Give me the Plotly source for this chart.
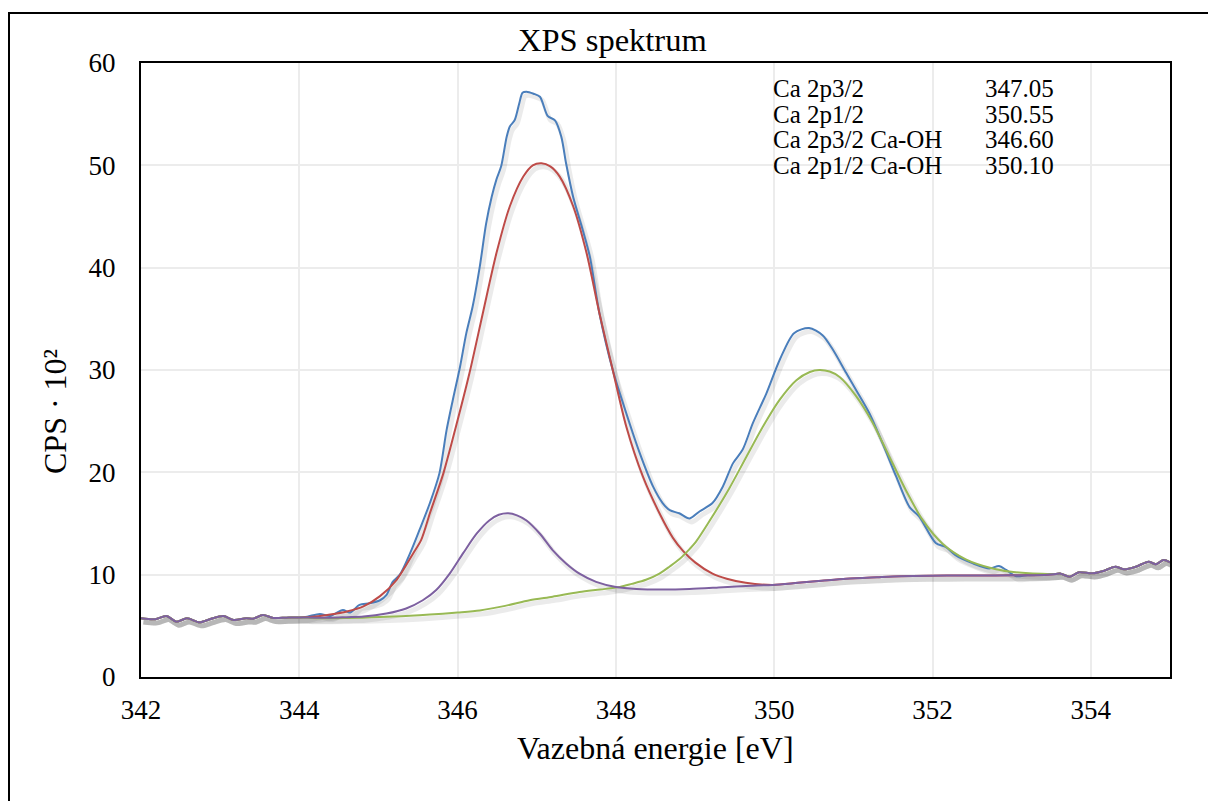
import plotly.graph_objects as go

# ---------------- data ----------------
edge_left_x = [342.0, 342.18, 342.32, 342.45, 342.58, 342.74, 342.87, 343.04, 343.17,
               343.33, 343.42, 343.54, 343.67, 343.84, 344.0]
edge_left_y = [5.73, 5.64, 5.96, 5.41, 5.73, 5.35, 5.64, 5.96, 5.57,
               5.73, 5.70, 6.06, 5.77, 5.80, 5.82]

edge_right_x = [353.56, 353.62, 353.73, 353.85, 354.02, 354.17, 354.31, 354.42,
                354.57, 354.73, 354.82, 354.92, 355.0]
edge_right_y = [10.07, 10.10, 9.80, 10.23, 10.13, 10.39, 10.78, 10.52,
                10.78, 11.27, 11.02, 11.44, 11.21]

bg_right_x = [350.3, 350.6, 350.91, 351.3, 351.6, 351.96, 352.4, 352.8, 353.2, 353.45]
bg_right_y = [9.2, 9.4, 9.6, 9.75, 9.85, 9.9, 9.92, 9.93, 9.95, 10.0]

measured_x = [344.10, 344.26, 344.39, 344.55, 344.64, 344.76, 344.89, 345.02, 345.10,
              345.18, 345.27, 345.40, 345.52, 345.65, 345.77, 345.86, 345.94, 346.03,
              346.11, 346.19, 346.28, 346.36, 346.43, 346.49, 346.55, 346.62, 346.66,
              346.72, 346.78, 346.82, 346.87, 346.96, 347.04, 347.14, 347.23, 347.31,
              347.37, 347.46, 347.58, 347.67, 347.79, 347.96, 348.13, 348.30, 348.47,
              348.59, 348.68, 348.80, 348.93, 349.06, 349.22, 349.35, 349.48, 349.60,
              349.73, 349.90, 350.07, 350.25, 350.44, 350.61, 350.74, 350.91, 351.03,
              351.20, 351.37, 351.54, 351.71, 351.83, 352.04, 352.17, 352.29, 352.51,
              352.72, 352.84, 352.93, 353.05, 353.20, 353.40]
measured_y = [5.90, 6.16, 5.96, 6.55, 6.30, 7.04, 7.20, 7.50, 8.00,
              9.30, 10.0, 12.1, 14.4, 17.0, 19.9, 24.1, 27.1, 30.3,
              33.6, 36.2, 40.1, 44.3, 46.9, 48.6, 49.9, 52.8, 53.8,
              54.4, 56.1, 57.1, 57.2, 57.0, 56.7, 54.8, 54.4, 52.8,
              50.2, 46.9, 43.7, 41.1, 35.6, 30.0, 25.8, 21.9, 18.6,
              17.0, 16.3, 16.0, 15.5, 16.2, 17.0, 18.6, 20.9, 22.2,
              24.8, 27.7, 31.0, 33.6, 34.1, 33.4, 32.0, 29.7, 28.1,
              25.8, 22.8, 19.6, 16.6, 15.7, 13.1, 12.7, 11.9, 11.1,
              10.6, 10.85, 10.46, 9.87, 9.95, 10.0]

p32_x = [344.2, 344.39, 344.6, 344.81, 345.02, 345.23, 345.44, 345.54, 345.65, 345.82,
         345.98, 346.15, 346.32, 346.49, 346.66, 346.83, 346.95, 347.06, 347.17, 347.29,
         347.46, 347.63, 347.79, 347.96, 348.13, 348.34, 348.55, 348.72, 348.85, 349.0,
         349.22, 349.4, 349.64, 349.98]
p32_y = [5.9, 6.1, 6.4, 6.9, 7.9, 9.5, 12.1, 13.4, 16.0, 19.9,
         24.5, 29.7, 35.6, 41.4, 46.0, 48.9, 50.0, 50.2, 49.9, 48.9,
         46.0, 41.4, 35.6, 30.0, 24.5, 19.6, 16.0, 13.6, 12.3, 11.2,
         10.1, 9.6, 9.2, 9.0]

p12_x = [344.2, 344.39, 344.8, 345.2, 345.65, 346.0, 346.28, 346.6, 346.91, 347.2,
         347.54, 347.8, 348.05, 348.2, 348.38, 348.55, 348.68, 348.80, 348.93, 349.01,
         349.22, 349.43, 349.64, 349.86, 350.07, 350.28, 350.45, 350.57, 350.70, 350.83,
         351.03, 351.24, 351.45, 351.66, 351.87, 352.13, 352.42, 352.76, 352.97, 353.22,
         353.45]
p12_y = [5.75, 5.75, 5.8, 5.9, 6.1, 6.3, 6.5, 6.95, 7.5, 7.85,
         8.3, 8.55, 8.8, 9.1, 9.5, 10.1, 10.8, 11.5, 12.5, 13.2,
         15.7, 18.4, 21.4, 24.5, 27.1, 29.0, 29.8, 30.0, 29.85, 29.3,
         27.5, 24.9, 21.6, 18.3, 15.4, 13.0, 11.5, 10.6, 10.3, 10.13,
         10.07]

oh32_x = [344.2, 344.39, 344.6, 344.81, 345.10, 345.35, 345.56, 345.73, 345.90, 346.07,
          346.24, 346.40, 346.52, 346.64, 346.75, 346.87, 347.04, 347.20, 347.37, 347.54,
          347.75, 348.00, 348.26, 348.59, 348.93, 349.3, 349.64, 349.98]
oh32_y = [5.8, 5.8, 5.85, 5.9, 6.2, 6.7, 7.5, 8.5, 10.1, 12.1,
          14.0, 15.3, 15.85, 16.0, 15.8, 15.3, 14.0, 12.4, 11.1, 10.1,
          9.3, 8.8, 8.6, 8.55, 8.6, 8.75, 8.9, 9.0]

table_labels = ["Ca 2p3/2", "Ca 2p1/2", "Ca 2p3/2 Ca-OH", "Ca 2p1/2 Ca-OH"]
table_values = ["347.05", "350.55", "346.60", "350.10"]

x_ticks = [342, 344, 346, 348, 350, 352, 354]
y_ticks = [0, 10, 20, 30, 40, 50, 60]

title_text = "XPS spektrum"
x_title = "Vazebná energie [eV]"
y_title = "CPS · 10²"

# ---------------- figure ----------------
FONT = "Liberation Serif, Times New Roman, serif"

series = [
    ("measured", edge_left_x + measured_x + edge_right_x,
     edge_left_y + measured_y + edge_right_y, "#4A7EBB"),
    ("Ca 2p3/2", edge_left_x + p32_x + bg_right_x + edge_right_x,
     edge_left_y + p32_y + bg_right_y + edge_right_y, "#BE4B48"),
    ("Ca 2p1/2", edge_left_x + p12_x + edge_right_x,
     edge_left_y + p12_y + edge_right_y, "#98B954"),
    ("Ca 2p3/2 Ca-OH", edge_left_x + oh32_x + bg_right_x + edge_right_x,
     edge_left_y + oh32_y + bg_right_y + edge_right_y, "#7D60A0"),
]

fig = go.Figure()

# soft drop shadows (Excel-style)
for name, xs, ys, col in series:
    fig.add_trace(go.Scatter(
        x=[v + 0.03 for v in xs], y=[v - 0.35 for v in ys], mode="lines",
        line=dict(color="rgba(0,0,0,0.08)", width=5, shape="spline", smoothing=0.8),
        hoverinfo="skip", showlegend=False))

for name, xs, ys, col in series:
    fig.add_trace(go.Scatter(
        x=xs, y=ys, mode="lines", name=name,
        line=dict(color=col, width=2, shape="spline", smoothing=0.8),
        showlegend=False))

PL, PR, PT, PB = 141, 1170, 63, 677
PW, PH = PR - PL, PB - PT


def xp(px):
    return (px - PL) / PW


def yp(py):
    return (PB - py) / PH


annotations = []
row_centers = [88, 114, 140, 166]
for lab, val, rc in zip(table_labels, table_values, row_centers):
    annotations.append(dict(text=lab, x=xp(771), y=yp(rc), xref="paper", yref="paper",
                            xanchor="left", yanchor="middle", showarrow=False,
                            font=dict(family=FONT, size=25, color="black")))
    annotations.append(dict(text=val, x=xp(1056), y=yp(rc), xref="paper", yref="paper",
                            xanchor="right", yanchor="middle", showarrow=False,
                            font=dict(family=FONT, size=25, color="black")))

annotations.append(dict(text=title_text, x=xp(612), y=yp(40), xref="paper", yref="paper",
                        xanchor="center", yanchor="middle", showarrow=False,
                        font=dict(family=FONT, size=32.5, color="black")))
annotations.append(dict(text=x_title, x=xp(655), y=yp(748), xref="paper", yref="paper",
                        xanchor="center", yanchor="middle", showarrow=False,
                        font=dict(family=FONT, size=32, color="black")))
annotations.append(dict(text=y_title, x=xp(55), y=yp(412), xref="paper", yref="paper",
                        xanchor="center", yanchor="middle", showarrow=False, textangle=-90,
                        font=dict(family=FONT, size=32, color="black")))

fig.update_layout(
    width=1208, height=801,
    margin=dict(l=PL, r=1208 - PR, t=PT, b=801 - PB, pad=0),
    paper_bgcolor="white", plot_bgcolor="white",
    font=dict(family=FONT, size=27, color="black"),
    annotations=annotations,
    shapes=[dict(type="rect", xref="paper", yref="paper",
                 x0=xp(9), x1=xp(1215), y0=yp(810), y1=yp(13),
                 line=dict(color="black", width=2), fillcolor="rgba(0,0,0,0)",
                 layer="below")],
)

fig.update_xaxes(range=[342, 355], tickvals=x_ticks, ticktext=[str(v) for v in x_ticks],
                 showgrid=True, gridcolor="#ECECEC", gridwidth=2,
                 showline=True, linecolor="black", linewidth=2, mirror=True,
                 ticks="outside", ticklen=8, tickcolor="rgba(0,0,0,0)", zeroline=False,
                 tickfont=dict(family=FONT, size=27, color="black"))
fig.update_yaxes(range=[0, 60], tickvals=y_ticks, ticktext=[str(v) for v in y_ticks],
                 showgrid=True, gridcolor="#ECECEC", gridwidth=2,
                 showline=True, linecolor="black", linewidth=2, mirror=True,
                 ticks="outside", ticklen=18, tickcolor="rgba(0,0,0,0)", zeroline=False,
                 tickfont=dict(family=FONT, size=27, color="black"))

fig.write_html("out.html",
               config={"displayModeBar": False},
               post_script="document.body.style.margin='0';document.body.style.overflow='hidden';")
